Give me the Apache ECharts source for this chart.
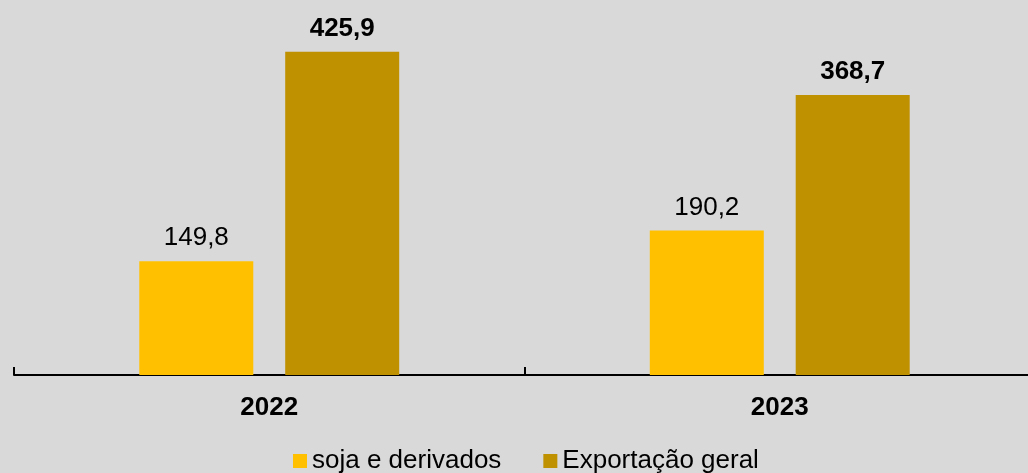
<!DOCTYPE html>
<html>
<head>
<meta charset="utf-8">
<script src="https://cdn.jsdelivr.net/npm/echarts@6/dist/echarts.min.js"></script>
<style>
  html, body { margin: 0; padding: 0; background: #d9d9d9; }
  #chart { width: 1028px; height: 473px; }
</style>
</head>
<body>
<div id="chart"></div>
<script>
var years = ['2022', '2023'];
var soja = [149.8, 190.2];
var exportacao = [425.9, 368.7];
var seriesNames = ['soja e derivados', 'Exportação geral'];

function fmt(v) {
	return String(v.toFixed(1)).replace('.', ',');
}

var font = 'Liberation Sans, Arial, sans-serif';
var chart = echarts.init(document.getElementById('chart'));
chart.setOption({
	backgroundColor: '#d9d9d9',
	animation: false,
	grid: { left: 14, right: -7, top: 0, bottom: 98, outerBoundsMode: 'none', containLabel: false },
	legend: {
		data: seriesNames,
		left: 293,
		top: 448,
		padding: 0,
		itemWidth: 14,
		itemHeight: 14,
		itemGap: 42,
		icon: 'rect',
		textStyle: { fontFamily: font, fontSize: 26, color: '#000' }
	},
	xAxis: {
		type: 'category',
		data: years,
		axisLine: { lineStyle: { color: '#000', width: 2 } },
		axisTick: { show: true, inside: true, length: 8, interval: 0,
			lineStyle: { color: '#000', width: 2 } },
		axisLabel: { margin: 20, fontFamily: font, fontSize: 26, fontWeight: 'bold', color: '#000' }
	},
	yAxis: {
		type: 'value', min: 0, max: 494, show: false,
		splitLine: { show: false }
	},
	series: [
		{
			name: seriesNames[0], type: 'bar', data: soja,
			barWidth: 114, barGap: '28%',
			itemStyle: { color: '#ffc000' },
			label: { show: true, position: 'top', distance: 10,
				fontFamily: font, fontSize: 26, color: '#000',
				formatter: function (p) { return fmt(p.value); } }
		},
		{
			name: seriesNames[1], type: 'bar', data: exportacao,
			barWidth: 114,
			itemStyle: { color: '#bf9000' },
			label: { show: true, position: 'top', distance: 10,
				fontFamily: font, fontSize: 26, fontWeight: 'bold', color: '#000',
				formatter: function (p) { return fmt(p.value); } }
		}
	]
});
</script>
</body>
</html>
